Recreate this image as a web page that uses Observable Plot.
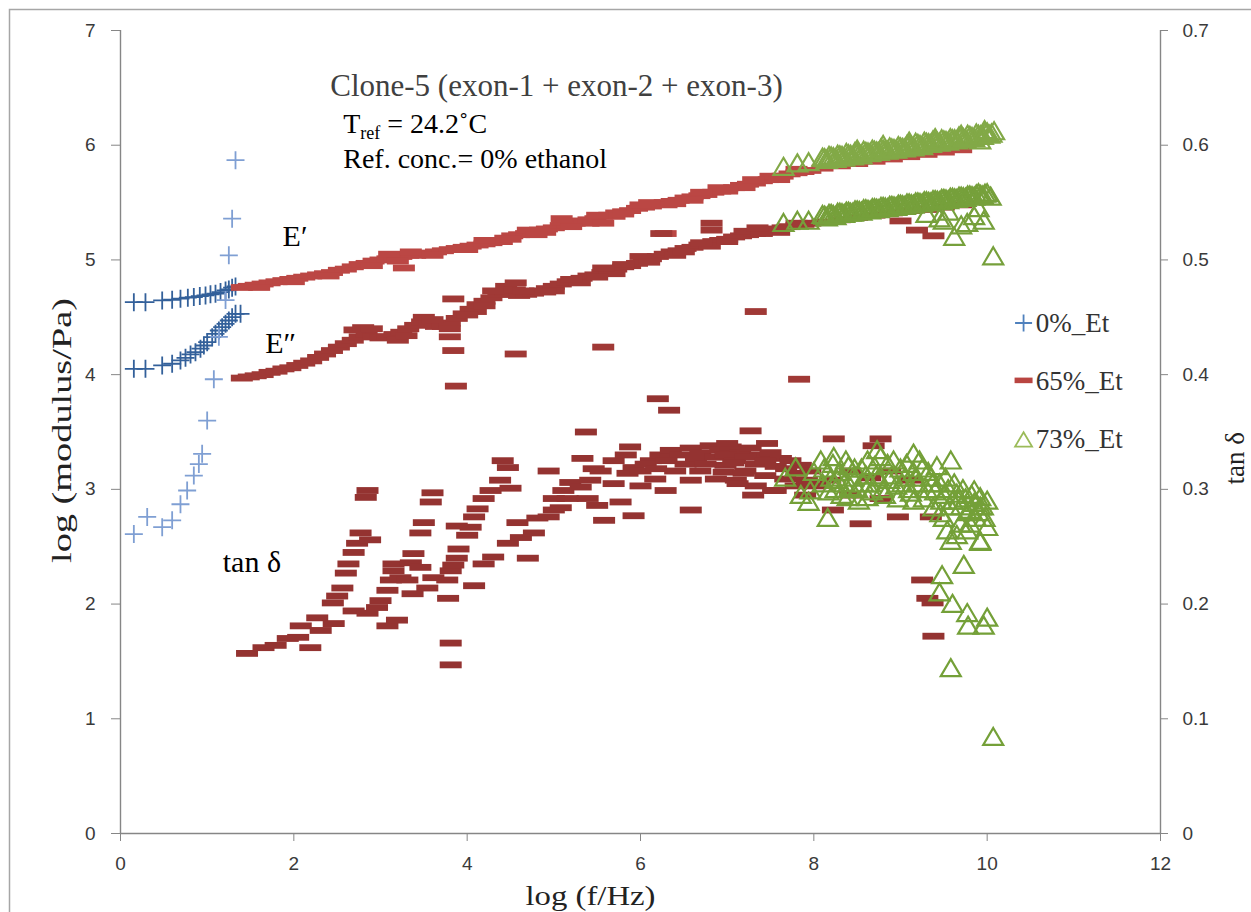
<!DOCTYPE html>
<html><head><meta charset="utf-8">
<script src="https://cdn.jsdelivr.net/npm/d3@7"></script>
<script src="https://cdn.jsdelivr.net/npm/@observablehq/plot@0.6"></script>
<style>html,body{margin:0;padding:0;background:#fff;}</style>
</head><body><div id="chart"></div>
<script>
// ---------- axes ----------
const xDomain = [0, 12];
const yDomain = [0, 7];
const xTicks = [0, 2, 4, 6, 8, 10, 12];
const yTicks = [0, 1, 2, 3, 4, 5, 6, 7];
const tanTicks = [0, 0.1, 0.2, 0.3, 0.4, 0.5, 0.6, 0.7];
const tanFactor = 7 / 0.7; // secondary axis 0..0.7 maps onto 0..7

// ---------- texts ----------
const xTitle = "log (f/Hz)";
const yTitle = "log (modulus/Pa)";
const y2Title = "tan δ";
const titleLine1 = "Clone-5 (exon-1 + exon-2 + exon-3)";
const trefParts = ["T", "ref", " = 24.2˚C"];
const titleLine3 = "Ref. conc.= 0% ethanol";
const seriesNames = ["0%_Et", "65%_Et", "73%_Et"];
const curveLabels = ["E′", "E″", "tan δ"];

// ---------- 0% ethanol ----------
const et0E1 = [[0.154,4.632],[0.288,4.632],[0.481,4.647],[0.596,4.653],[0.692,4.662],[0.777,4.671],[0.846,4.676],[0.915,4.685],[0.981,4.691],[1.038,4.700],[1.096,4.706],[1.154,4.720],[1.212,4.734],[1.25,4.743],[1.288,4.758],[1.327,4.769]];
const et0E2 = [[0.154,4.051],[0.288,4.051],[0.481,4.080],[0.596,4.095],[0.692,4.124],[0.75,4.147],[0.808,4.176],[0.865,4.196],[0.923,4.226],[0.962,4.254],[1.0,4.283],[1.058,4.327],[1.096,4.356],[1.135,4.385],[1.173,4.414],[1.212,4.443],[1.25,4.472],[1.288,4.501],[1.327,4.530],[1.385,4.530]];
const et0Tan = [[0.154,0.261],[0.308,0.276],[0.481,0.267],[0.596,0.273],[0.692,0.287],[0.769,0.299],[0.846,0.312],[0.904,0.322],[0.942,0.331],[1.0,0.36],[1.077,0.396],[1.135,0.433],[1.212,0.465],[1.25,0.504],[1.288,0.536],[1.327,0.587]];

// ---------- 65% ethanol ----------
const et65E1 = [[1.40,4.76],[1.48,4.77],[1.56,4.78],[1.64,4.79],[1.72,4.80],[1.80,4.81],[1.88,4.82],[1.96,4.83],[2.04,4.84],[2.12,4.85],[2.20,4.86],[2.28,4.87],[2.36,4.88],[2.44,4.89],[2.52,4.91],[2.60,4.92],[2.68,4.94],[2.76,4.96],[2.84,4.97],[2.92,4.99],[3.00,5.00],[3.08,5.01],[3.16,5.02],[3.24,5.03],[3.32,5.04],[3.40,5.04],[3.48,5.05],[3.56,5.06],[3.64,5.07],[3.72,5.08],[3.80,5.09],[3.88,5.10],[3.96,5.11],[4.04,5.12],[4.12,5.13],[4.20,5.14],[4.28,5.15],[4.36,5.17],[4.44,5.19],[4.52,5.21],[4.60,5.22],[4.68,5.23],[4.76,5.24],[4.84,5.26],[4.92,5.27],[5.00,5.28],[5.08,5.30],[5.16,5.31],[5.24,5.32],[5.32,5.34],[5.40,5.35],[5.48,5.36],[5.56,5.38],[5.64,5.39],[5.72,5.41],[5.80,5.42],[5.88,5.43],[5.96,5.45],[6.04,5.46],[6.12,5.47],[6.20,5.49],[6.28,5.50],[6.36,5.51],[6.44,5.52],[6.52,5.54],[6.60,5.55],[6.68,5.56],[6.76,5.57],[6.84,5.59],[6.92,5.60],[7.00,5.62],[7.08,5.63],[7.16,5.65],[7.24,5.66],[7.32,5.67],[7.40,5.69],[7.48,5.70],[7.56,5.72],[7.64,5.73],[7.72,5.75],[7.80,5.76],[7.88,5.77],[7.96,5.78],[8.1,5.80],[8.3,5.82],[8.5,5.84],[8.7,5.86],[8.9,5.88],[9.1,5.90],[9.3,5.92],[9.5,5.94],[9.7,5.96],
 [1.6,4.76],[2.0,4.81],[2.4,4.86],[2.9,4.95],[3.1,5.05],[3.2,4.99],[3.35,5.07],[3.6,5.04],[4.0,5.09],[4.4,5.16],[4.7,5.26],[4.9,5.24],[5.1,5.33],[5.4,5.32],[5.7,5.38],[6.0,5.48],[6.3,5.48],[6.6,5.52],[6.9,5.63],[7.2,5.63],[7.5,5.73],[7.8,5.79],
 [4.2,5.17],[4.5,5.18],[4.8,5.22],[5.2,5.29],[5.5,5.39],[5.8,5.40],[6.1,5.50],[6.4,5.49],[6.7,5.59],[7.0,5.60],[7.3,5.70],[7.6,5.70],
 [3.27,4.93],[5.09,5.36],[5.57,5.32],[6.29,5.23]];
const et65E2 = [[1.40,3.97],[1.48,3.98],[1.56,3.99],[1.64,4.00],[1.72,4.02],[1.80,4.03],[1.88,4.05],[1.96,4.06],[2.04,4.08],[2.12,4.10],[2.20,4.12],[2.28,4.15],[2.36,4.18],[2.44,4.21],[2.52,4.24],[2.60,4.27],[2.68,4.30],[2.76,4.33],[2.84,4.35],[2.92,4.33],[3.00,4.32],[3.08,4.33],[3.16,4.35],[3.24,4.37],[3.32,4.40],[3.40,4.43],[3.48,4.46],[3.56,4.44],[3.64,4.42],[3.72,4.42],[3.80,4.45],[3.88,4.49],[3.96,4.53],[4.04,4.57],[4.12,4.61],[4.20,4.64],[4.28,4.67],[4.36,4.70],[4.44,4.72],[4.52,4.70],[4.60,4.69],[4.68,4.70],[4.76,4.71],[4.84,4.73],[4.92,4.75],[5.00,4.77],[5.08,4.79],[5.16,4.81],[5.24,4.82],[5.32,4.84],[5.40,4.86],[5.48,4.87],[5.56,4.89],[5.64,4.90],[5.72,4.92],[5.80,4.94],[5.88,4.95],[5.96,4.97],[6.04,4.99],[6.12,5.01],[6.20,5.03],[6.28,5.05],[6.36,5.07],[6.44,5.08],[6.52,5.10],[6.60,5.11],[6.68,5.13],[6.76,5.14],[6.84,5.16],[6.92,5.17],[7.00,5.18],[7.08,5.20],[7.16,5.21],[7.24,5.22],[7.32,5.23],[7.40,5.25],[7.48,5.26],[7.56,5.27],[7.64,5.28],[7.72,5.29],[7.80,5.30],[7.88,5.31],[7.96,5.32],[8.1,5.33],[8.3,5.35],[8.5,5.37],[8.7,5.39],[8.9,5.41],[9.1,5.43],[9.3,5.44],[9.5,5.46],[9.7,5.48],
 [2.7,4.39],[2.8,4.41],[2.9,4.40],[3.2,4.30],[3.3,4.34],[3.5,4.50],[3.6,4.48],[3.8,4.40],[4.1,4.55],[4.3,4.73],[4.45,4.77],[4.55,4.74],[5.0,4.73],[5.3,4.80],[5.7,4.88],[6.0,5.03],[6.4,5.04],[6.8,5.12],[7.2,5.25],[7.6,5.24],
 [4.0,4.52],[4.2,4.60],[4.65,4.73],[4.9,4.72],[5.2,4.83],[5.5,4.85],[5.8,4.96],[6.1,4.98],[6.5,5.07],[6.7,5.15],[7.0,5.16],[7.4,5.23],[7.8,5.32],
 [3.84,4.66],[3.80,4.33],[3.84,4.21],[3.87,3.90],[4.56,4.80],[4.56,4.18],[5.57,4.93],[5.57,4.24],[6.24,5.23],[6.82,5.32],[6.82,5.26],[7.33,4.55],[7.83,3.96],[7.35,5.28],[9.0,5.34],[9.19,5.26],[9.38,5.21]];
const et65Tan = [[1.46,.157],[1.65,.162],[1.79,.164],[1.93,.170],[2.05,.171],[2.19,.162],[2.08,.181],[2.27,.188],[2.31,.177],[2.46,.183],[2.45,.201],[2.50,.207],[2.56,.214],[2.60,.227],[2.63,.235],[2.69,.245],[2.73,.253],[2.77,.262],[2.88,.256],[2.83,.293],[2.85,.299],[2.69,.194],[2.85,.192],[2.96,.197],[3.00,.203],[3.08,.181],[3.19,.186],[3.08,.212],[3.12,.221],[3.15,.229],[3.23,.223],[3.31,.221],[3.15,.235],[3.35,.236],[3.38,.244],[3.46,.232],[3.37,.209],[3.54,.214],[3.46,.262],[3.50,.271],[3.58,.289],[3.60,.297],[3.61,.223],[3.77,.221],[3.78,.205],[3.81,.229],[3.84,.234],[3.88,.240],[3.90,.248],[4.00,.260],[4.04,.267],[4.08,.276],[3.88,.268],[4.12,.283],[4.19,.292],[4.27,.299],[4.38,.308],[4.41,.325],[4.47,.319],[4.50,.301],[4.08,.216],[3.81,.166],[3.81,.147],[4.19,.235],[4.30,.241],[4.47,.253],[4.62,.258],[4.70,.240],[4.77,.262],[4.58,.271],[4.81,.275],[4.94,.276],[5.00,.282],[5.08,.284],[5.00,.292],[5.16,.292],[5.11,.299],[5.19,.306],[5.31,.302],[5.39,.292],[5.58,.273],[5.50,.286],[5.77,.289],[5.69,.305],[5.85,.314],[5.92,.319],[5.88,.337],[5.33,.327],[5.46,.318],[5.37,.350],[4.94,.316],[5.92,.277],[5.54,.316],[5.42,.308],[5.69,.325],[5.83,.330],
 [6.00,.316],[6.12,.325],[6.23,.330],[6.35,.334],[6.46,.330],[6.58,.336],[6.69,.332],[6.81,.338],[6.92,.334],[7.04,.337],[7.15,.332],[7.27,.336],[7.38,.330],[7.50,.332],[7.62,.327],[7.73,.325],[7.85,.321],[7.96,.316],
 [6.00,.303],[6.17,.309],[6.29,.299],[6.40,.316],[6.58,.308],[6.69,.316],[6.87,.309],[6.98,.321],[7.10,.308],[7.21,.316],[7.33,.303],[7.44,.312],[7.56,.299],[7.67,.309],[7.79,.303],[7.90,.295],[8.02,.303],
 [6.06,.322],[6.18,.318],[6.30,.325],[6.52,.322],[6.64,.327],[6.75,.322],[6.86,.328],[6.98,.330],[7.09,.325],[7.21,.328],[7.33,.322],[7.44,.325],[7.56,.320],[7.68,.318],[7.80,.314],[7.92,.308],
 [6.96,.315],[7.19,.314],[7.07,.323],[7.12,.305],[7.30,.295],[7.53,.299],[7.00,.340],[7.46,.340],[7.27,.351],[6.20,.379],[6.33,.369],[6.58,.282],
 [8.19,.308],[8.42,.316],[8.65,.310],[8.88,.316],[9.12,.308],[8.42,.295],[8.77,.292],[8.23,.344],[8.69,.338],[8.77,.344],[8.22,.282],[8.54,.270],[8.97,.276],[9.35,.276],[9.25,.221],[9.31,.205],[9.37,.201],[9.38,.172]];

// ---------- 73% ethanol ----------
const et73E1 = [[7.65,5.81],[7.81,5.84],[7.94,5.85],[8.10,5.89],[8.15,5.87],[8.2,5.90],[8.25,5.88],[8.3,5.91],[8.35,5.89],[8.4,5.92],[8.45,5.90],[8.5,5.93],[8.55,5.91],[8.6,5.94],[8.65,5.93],[8.7,5.95],[8.75,5.94],[8.8,5.96],[8.85,5.95],[8.9,5.97],[8.95,5.96],[9.0,5.98],[9.05,5.97],[9.1,6.00],[9.15,5.98],[9.2,6.01],[9.25,5.99],[9.3,6.02],[9.35,6.01],[9.4,6.03],[9.45,6.02],[9.5,6.04],[9.55,6.03],[9.6,6.05],[9.65,6.04],[9.7,6.07],[9.75,6.05],[9.8,6.08],[9.85,6.06],[9.9,6.09],[9.95,6.08],[10.0,6.11],[10.05,6.10],[10.08,6.12],[9.97,6.13],[9.92,6.04],[8.5,5.96],[8.8,6.00],[9.1,6.03],[9.4,6.06],[9.7,6.09],
 [8.125,5.885],[8.175,5.905],[8.225,5.895],[8.275,5.915],[8.325,5.905],[8.375,5.93],[8.425,5.915],[8.475,5.94],[8.525,5.925],[8.575,5.95],[8.625,5.935],[8.675,5.96],[8.725,5.945],[8.775,5.97],[8.825,5.955],[8.875,5.98],[8.925,5.965],[8.975,5.99],[9.025,5.975],[9.075,6.00],[9.125,5.99],[9.175,6.02],[9.225,6.00],[9.275,6.03],[9.325,6.015],[9.375,6.04],[9.425,6.025],[9.475,6.05],[9.525,6.035],[9.575,6.06],[9.625,6.05],[9.675,6.075],[9.725,6.06],[9.775,6.09],[9.825,6.07],[9.875,6.10],[9.925,6.085],[9.975,6.11],[10.025,6.09]];
const et73E2 = [[7.65,5.32],[7.81,5.34],[7.94,5.34],[8.10,5.39],[8.15,5.37],[8.2,5.40],[8.25,5.38],[8.3,5.41],[8.35,5.40],[8.4,5.42],[8.45,5.41],[8.5,5.43],[8.55,5.42],[8.6,5.44],[8.65,5.43],[8.7,5.45],[8.75,5.44],[8.8,5.46],[8.85,5.45],[8.9,5.47],[8.95,5.46],[9.0,5.48],[9.05,5.47],[9.1,5.49],[9.15,5.48],[9.2,5.50],[9.25,5.49],[9.3,5.51],[9.35,5.50],[9.4,5.52],[9.45,5.51],[9.5,5.53],[9.55,5.52],[9.6,5.54],[9.65,5.53],[9.7,5.55],[9.75,5.54],[9.8,5.56],[9.85,5.55],[9.9,5.58],[9.95,5.56],[10.0,5.58],[10.04,5.55],
 [8.125,5.385],[8.175,5.40],[8.225,5.39],[8.275,5.41],[8.325,5.405],[8.375,5.42],[8.425,5.41],[8.475,5.43],[8.525,5.425],[8.575,5.44],[8.625,5.435],[8.675,5.45],[8.725,5.445],[8.775,5.46],[8.825,5.455],[8.875,5.47],[8.925,5.465],[8.975,5.48],[9.025,5.475],[9.075,5.49],[9.125,5.485],[9.175,5.50],[9.225,5.495],[9.275,5.51],[9.325,5.505],[9.375,5.52],[9.425,5.515],[9.475,5.53],[9.525,5.525],[9.575,5.54],[9.625,5.535],[9.675,5.55],[9.725,5.545],[9.775,5.56],[9.825,5.555],[9.875,5.57],[9.925,5.565],[9.975,5.575],
 [9.3,5.40],[9.45,5.36],[9.5,5.34],[9.62,5.20],[9.7,5.30],[9.77,5.32],[9.85,5.38],[9.96,5.34],[10.07,5.03],[9.55,5.42],[9.9,5.45]];
const et73Tan = [[7.67,.310],[7.79,.319],[7.85,.295],[7.96,.299],[7.94,.289],[8.08,.325],[8.16,.275],[8.23,.328],[8.39,.293],[8.62,.293],[8.73,.334],[9.15,.331],[9.15,.290],[9.58,.325],[9.38,.284],[9.46,.279],[9.54,.264],[9.69,.270],[9.77,.264],[9.92,.255],[10.0,.267],[9.85,.299],[9.92,.293],
 [8.3,.315],[8.35,.305],[8.4,.320],[8.45,.310],[8.5,.300],[8.55,.318],[8.6,.312],[8.65,.305],[8.7,.320],[8.75,.310],[8.8,.300],[8.85,.322],[8.9,.312],[8.95,.303],[9.0,.318],[9.05,.310],[9.1,.300],[9.15,.315],[9.2,.305],[9.25,.318],[9.3,.300],[9.35,.310],[9.4,.298],[9.45,.305],[9.5,.295],[9.55,.300],[9.6,.290],[9.65,.296],[9.7,.285],[9.75,.292],[9.8,.282],[9.85,.288],[9.9,.280],[9.95,.285],[10.0,.290],[8.2,.310],[8.25,.300],[8.1,.305],[8.0,.315],
 [8.12,.318],[8.17,.298],[8.22,.322],[8.27,.308],[8.32,.295],[8.37,.325],[8.42,.302],[8.47,.318],[8.52,.290],[8.57,.305],[8.62,.325],[8.67,.298],[8.72,.312],[8.77,.328],[8.82,.295],[8.87,.308],[8.92,.325],[8.97,.292],[9.02,.305],[9.07,.322],[9.12,.297],[9.17,.310],[9.22,.325],[9.27,.292],[9.32,.315],[9.37,.305],[9.42,.320],[9.47,.290],[9.52,.310],[9.57,.285],[9.62,.305],[9.67,.290],[9.72,.300],[9.77,.280],[9.82,.295],[9.87,.275],[9.92,.285],[9.97,.275],
 [9.73,.234],[9.48,.225],[9.45,.210],[9.60,.200],[9.77,.192],[9.78,.181],[9.96,.181],[10.0,.188],[9.58,.144],[10.07,.084],[9.92,.254],[9.58,.255],[9.5,.275],[9.65,.260],[9.8,.270]];

// ---------- styling ----------
const colors = {
  blueDark: "#33609a", blueLight: "#7f9fd3", blueLegend: "#4f81bd",
  red1: "#bb4744", red2: "#a03936", redTan: "#943331", redLegend: "#b94541",
  green1: "#82a947", green2: "#76a03b", greenTan: "#74a038", greenLegend: "#9bbb59"
};
const serif = "'Liberation Serif', 'Times New Roman', serif";
const sans = "'Liberation Sans', Arial, sans-serif";

const plusSymbol = {draw(ctx, size) {const r = Math.sqrt(size / Math.PI); ctx.moveTo(-r, 0); ctx.lineTo(r, 0); ctx.moveTo(0, -r); ctx.lineTo(0, r);}};
const dashSymbol = {draw(ctx, size) {const r = Math.sqrt(size / Math.PI), h = r * 0.31; ctx.moveTo(-r, -h); ctx.lineTo(r, -h); ctx.lineTo(r, h); ctx.lineTo(-r, h); ctx.closePath();}};
const triSymbol = {draw(ctx, size) {const r = Math.sqrt(size / Math.PI); ctx.moveTo(0, -r * 0.92); ctx.lineTo(r, r * 0.78); ctx.lineTo(-r, r * 0.78); ctx.closePath();}};

const px = d => d[0], py = d => d[1], pt = d => d[1] * tanFactor;
const plus = (data, y, color) => Plot.dot(data, {x: px, y, symbol: plusSymbol, r: 9, stroke: color, strokeWidth: 1.8, fill: "none"});
const dash = (data, y, color) => Plot.dot(data, {x: px, y, symbol: dashSymbol, r: 11, fill: color, stroke: "none"});
const tri = (data, y, color) => Plot.dot(data, {x: px, y, symbol: triSymbol, r: 10, stroke: color, strokeWidth: 2.2, fill: "none"});

// legend rows (data space positions for the legend block)
const legendRows = [
  {name: seriesNames[0], x: 10.42, y: 4.45, ty: 4.37, sym: plusSymbol, color: colors.blueLegend, kind: "stroke"},
  {name: seriesNames[1], x: 10.42, y: 3.95, ty: 3.87, sym: dashSymbol, color: colors.redLegend, kind: "fill"},
  {name: seriesNames[2], x: 10.42, y: 3.43, ty: 3.36, sym: triSymbol, color: colors.greenLegend, kind: "stroke"}
];

const chart = Plot.plot({
  width: 1251, height: 912,
  marginLeft: 120, marginRight: 91, marginTop: 30, marginBottom: 79,
  style: {background: "#fff", fontFamily: sans},
  x: {domain: xDomain},
  y: {domain: yDomain},
  marks: [
    Plot.ruleX([xDomain[0], xDomain[1]], {stroke: "#868686", strokeWidth: 1.4}),
    Plot.ruleY([yDomain[0]], {stroke: "#868686", strokeWidth: 1.4}),
    Plot.axisX({ticks: xTicks, tickFormat: d => String(d), tickSize: 8, tickPadding: 15, fontSize: 19, stroke: "#868686", color: "#3a3a3a", label: null}),
    Plot.axisY({anchor: "left", ticks: yTicks, tickFormat: d => String(d), tickSize: 9, tickPadding: 16, fontSize: 19, stroke: "#868686", color: "#3a3a3a", label: null}),
    Plot.axisY({anchor: "right", ticks: tanTicks.map(t => Math.round(t * tanFactor)), tickFormat: d => String(tanTicks[Math.round(d)]), tickSize: 7, tickPadding: 15, fontSize: 19, stroke: "#868686", color: "#3a3a3a", label: null}),
    // series
    plus(et0E1, py, colors.blueDark),
    plus(et0E2, py, colors.blueDark),
    dash(et65E1, py, colors.red1),
    dash(et65E2, py, colors.red2),
    tri(et73E1, py, colors.green1),
    tri(et73E2, py, colors.green2),
    plus(et0Tan, pt, colors.blueLight),
    dash(et65Tan, pt, colors.redTan),
    tri(et73Tan, pt, colors.greenTan),
    // annotations
    Plot.text([titleLine1], {x: 2.42, y: 6.425, textAnchor: "start", lineAnchor: "bottom", fontSize: 31, fontFamily: serif, fill: "#404040"}),
    Plot.text([trefParts.join("")], {x: 2.57, y: 6.11, textAnchor: "start", lineAnchor: "bottom", fontSize: 28, fontFamily: serif, fill: "#000"}),
    Plot.text([titleLine3], {x: 2.57, y: 5.805, textAnchor: "start", lineAnchor: "bottom", fontSize: 28, fontFamily: serif, fill: "#000"}),
    Plot.text([curveLabels[0]], {x: 1.87, y: 5.12, textAnchor: "start", lineAnchor: "bottom", fontSize: 30, fontFamily: serif, fill: "#000"}),
    Plot.text([curveLabels[1]], {x: 1.67, y: 4.19, textAnchor: "start", lineAnchor: "bottom", fontSize: 30, fontFamily: serif, fill: "#000"}),
    Plot.text([curveLabels[2]], {x: 1.18, y: 2.28, textAnchor: "start", lineAnchor: "bottom", fontSize: 30, fontFamily: serif, fill: "#000"}),
    // legend
    ...legendRows.map(r => Plot.dot([r], {x: "x", y: "y", symbol: r.sym, r: r.sym === dashSymbol ? 9 : 8.5, fill: r.kind === "fill" ? r.color : "none", stroke: r.kind === "fill" ? "none" : r.color, strokeWidth: 1.8})),
    Plot.text(legendRows, {x: d => d.x + 0.14, y: "ty", text: "name", textAnchor: "start", lineAnchor: "bottom", fontSize: 27, fontFamily: serif, fill: "#333"}),
    // axis titles
    Plot.text([xTitle], {frameAnchor: "bottom", dx: -115, dy: 71, textAnchor: "start", lineAnchor: "bottom", fontSize: 28, fontFamily: serif, fill: "#222"}),
    Plot.text([yTitle], {frameAnchor: "left", dx: -58, dy: 131, rotate: -90, textAnchor: "start", lineAnchor: "middle", fontSize: 28, fontFamily: serif, fill: "#222"}),
    Plot.text([y2Title], {frameAnchor: "right", dx: 75, rotate: -90, lineAnchor: "middle", fontSize: 27, fontFamily: serif, fill: "#222"})
  ]
});

const svg = d3.select(chart);
svg.selectAll("text").each(function () {
  const t = d3.select(this);
  if (this.textContent === trefParts.join("")) {
    t.text(null);
    t.append("tspan").text(trefParts[0]);
    t.append("tspan").attr("font-size", 18).attr("dy", 6).text(trefParts[1]);
    t.append("tspan").attr("dy", -6).text(trefParts[2]);
  } else if (this.textContent === yTitle) {
    t.attr("textLength", 265).attr("lengthAdjust", "spacingAndGlyphs");
  } else if (this.textContent === xTitle) {
    t.attr("textLength", 130).attr("lengthAdjust", "spacingAndGlyphs");
  }
});
// outer chart-area border
svg.append("rect").attr("x", 9.5).attr("y", 9.5).attr("width", 1300).attr("height", 1000)
  .attr("fill", "none").attr("stroke", "#a6a6a6").attr("stroke-width", 1.5);

document.getElementById("chart").appendChild(chart);
</script></body></html>
